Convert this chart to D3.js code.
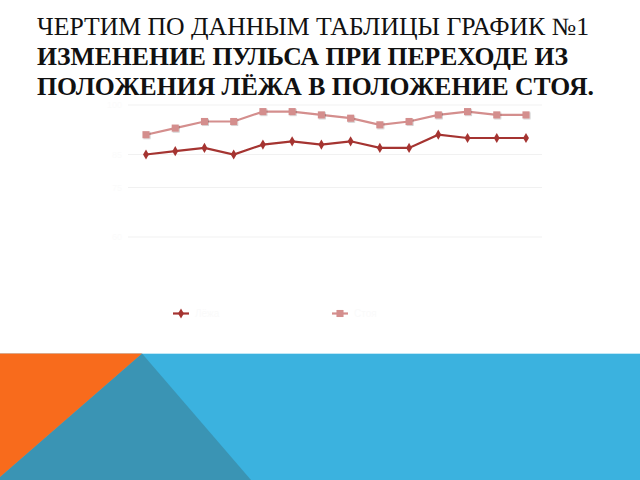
<!DOCTYPE html>
<html>
<head>
<meta charset="utf-8">
<script src="https://cdn.jsdelivr.net/npm/d3@7"></script>
<style>
  html, body { margin: 0; padding: 0; background: #ffffff; }
  svg { display: block; }
</style>
</head>
<body>
<svg id="chart" width="640" height="480"></svg>
<script>
// ---- data ----
const categories = ["1","2","3","4","5","6","7","8","9","10","11","12","13","14"];
const lyingPulse = [85, 86, 87, 85, 88, 89, 88, 89, 87, 87, 91, 90, 90, 90];
const standingPulse = [91, 93, 95, 95, 98, 98, 97, 96, 94, 95, 97, 98, 97, 97];
const seriesNames = ["Лёжа", "Стоя"];
const gridValues = [60, 75, 85, 100];
const titleLines = [
  "ЧЕРТИМ ПО ДАННЫМ ТАБЛИЦЫ ГРАФИК №1",
  "ИЗМЕНЕНИЕ ПУЛЬСА ПРИ ПЕРЕХОДЕ ИЗ",
  "ПОЛОЖЕНИЯ ЛЁЖА В ПОЛОЖЕНИЕ СТОЯ."
];

const svg = d3.select("#chart");

// ---- decorative bottom ----
const deco = svg.append("g");
deco.append("rect").attr("x", 0).attr("y", 353).attr("width", 640).attr("height", 127).attr("fill", "#3bb2df");
deco.append("line").attr("x1", 0).attr("x2", 640).attr("y1", 353.5).attr("y2", 353.5).attr("stroke", "#bfe7f6").attr("stroke-width", 1);
deco.append("polygon").attr("points", "142,353.5 251,480 0,480 0,477").attr("fill", "#3a94b4");
deco.append("polygon").attr("points", "0,353.5 142,353.5 0,477").attr("fill", "#f86b1c");

// ---- title ----
const titleG = svg.append("g").style("font-family", "'Liberation Serif', 'DejaVu Serif', serif").attr("fill", "#111");
const titleSpecs = [
  { y: 35, w: 552, bold: false },
  { y: 65, w: 531, bold: true },
  { y: 95, w: 557, bold: true }
];
titleLines.forEach((t, i) => {
  titleG.append("text")
    .attr("x", 37).attr("y", titleSpecs[i].y)
    .attr("font-size", 25)
    .attr("font-weight", titleSpecs[i].bold ? "bold" : "normal")
    .attr("textLength", titleSpecs[i].w)
    .attr("lengthAdjust", "spacingAndGlyphs")
    .text(t);
});

// ---- chart ----
const plotLeft = 128, plotRight = 542;
const x = d3.scalePoint().domain(categories).range([146, 526]);
const y = d3.scaleLinear().domain([60, 100]).range([237, 105]);

const grid = svg.append("g");
grid.selectAll("line").data(gridValues).join("line")
  .attr("x1", plotLeft).attr("x2", plotRight)
  .attr("y1", d => y(d)).attr("y2", d => y(d))
  .attr("stroke", "#f1f1f1").attr("stroke-width", 1);

const yAxisLabels = svg.append("g").style("font-family", "'Liberation Sans', sans-serif").attr("font-size", 9).attr("fill", "#fbfbfb").attr("text-anchor", "end");
yAxisLabels.selectAll("text").data(gridValues).join("text")
  .attr("x", plotLeft - 6).attr("y", d => y(d) + 3).text(d => d);

const defs = svg.append("defs");
const f = defs.append("filter").attr("id", "sh").attr("x", "-50%").attr("y", "-50%").attr("width", "200%").attr("height", "200%");
f.append("feDropShadow").attr("dx", 0.8).attr("dy", 0.8).attr("stdDeviation", 0.6).attr("flood-color", "#000").attr("flood-opacity", 0.25);

const line = d3.line().x((d, i) => x(categories[i])).y(d => y(d));

const colLying = "#a53431";
const colStanding = "#d48e8d";

// standing (upper) series
svg.append("path").datum(standingPulse).attr("d", line)
  .attr("fill", "none").attr("stroke", colStanding).attr("stroke-width", 2.2);
svg.append("g").selectAll("path").data(standingPulse).join("path")
  .attr("d", d3.symbol().type(d3.symbolSquare).size(50)())
  .attr("transform", (d, i) => `translate(${x(categories[i])},${y(d)})`)
  .attr("fill", colStanding).attr("filter", "url(#sh)");

// lying (lower) series
svg.append("path").datum(lyingPulse).attr("d", line)
  .attr("fill", "none").attr("stroke", colLying).attr("stroke-width", 2.2);
svg.append("g").selectAll("path").data(lyingPulse).join("path")
  .attr("d", d3.symbol().type(d3.symbolDiamond).size(30)())
  .attr("transform", (d, i) => `translate(${x(categories[i])},${y(d)})`)
  .attr("fill", colLying);

// ---- legend ----
const legend = svg.append("g");
const legItems = [
  { name: seriesNames[0], cx: 181, color: colLying, sym: d3.symbolDiamond, size: 30 },
  { name: seriesNames[1], cx: 340, color: colStanding, sym: d3.symbolSquare, size: 50 }
];
legItems.forEach(it => {
  legend.append("line").attr("x1", it.cx - 8).attr("x2", it.cx + 8).attr("y1", 313.5).attr("y2", 313.5)
    .attr("stroke", it.color).attr("stroke-width", 2.2);
  legend.append("path").attr("d", d3.symbol().type(it.sym).size(it.size)())
    .attr("transform", `translate(${it.cx},313.5)`).attr("fill", it.color);
  legend.append("text").attr("x", it.cx + 14).attr("y", 317)
    .style("font-family", "'Liberation Sans', sans-serif").attr("font-size", 10)
    .attr("fill", "#fafafa").text(it.name);
});
</script>
</body>
</html>
